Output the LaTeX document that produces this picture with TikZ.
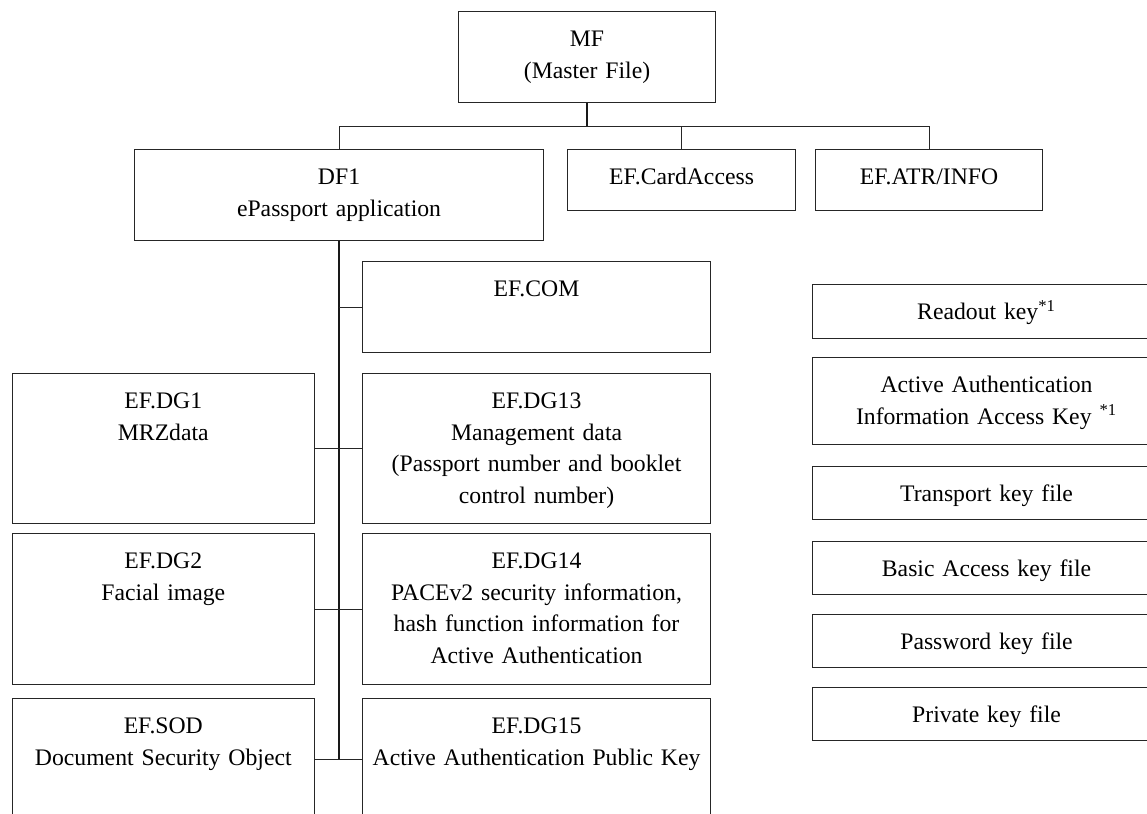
\documentclass[tikz,border=0pt]{standalone}
\usepackage{fontspec}
\setmainfont{Liberation Serif}
\usetikzlibrary{calc}
\tikzset{
  bx/.style 2 args={draw=black!85, line width=0.55pt, anchor=north west, inner sep=0pt,
    align=center, text width=#1, text height=17.5pt, text depth=#2,
    font=\fontsize{11.85}{15.85}\selectfont},
  wire/.style={draw=black!85, line width=0.55pt},
  trunk/.style={draw=black!90, line width=1pt}
}
\begin{document}
\begin{tikzpicture}[x=0.5pt,y=-0.5pt]
\useasboundingbox (0,0) rectangle (1147,814);
\clip (0,0) rectangle (1147,814);
% top level
\node[bx={128.5pt}{28pt}] (mf) at (458,11) {MF\\(Master File)};
\node[bx={204.5pt}{28pt}] (df1) at (134,149) {DF1\\ePassport application};
\node[bx={114pt}{13pt}] (ca) at (567,149) {EF.CardAccess};
\node[bx={113.5pt}{13pt}] (atr) at (815,149) {EF.ATR/INFO};
% DF1 children
\node[bx={174pt}{28pt}] (com) at (362,261) {EF.COM};
\node[bx={151.25pt}{57.5pt}] (dg1) at (11.5,373) {EF.DG1\\MRZdata};
\node[bx={174pt}{57.5pt}] (dg13) at (362,373) {EF.DG13\\Management data\\(Passport number and booklet\\control number)};
\node[bx={151.25pt}{58pt}] (dg2) at (11.5,533) {EF.DG2\\Facial image};
\node[bx={174pt}{58pt}] (dg14) at (362,533) {EF.DG14\\PACEv2 security information,\\hash function information for\\Active Authentication};
\node[bx={151.25pt}{43pt}] (sod) at (11.5,698) {EF.SOD\\Document Security Object};
\node[bx={174pt}{43pt}] (dg15) at (362,698) {EF.DG15\\Active Authentication Public Key};
% key files
\node[bx={174pt}{9.5pt}] (rk) at (812,284.3) {Readout key\textsuperscript{*1}};
\node[bx={174pt}{26pt}] (aak) at (812,357.3) {Active Authentication\\Information Access Key \textsuperscript{*1}};
\node[bx={174pt}{9pt}] (tk) at (812,466) {Transport key file};
\node[bx={174pt}{9pt}] (bk) at (812,541.3) {Basic Access key file};
\node[bx={174pt}{9pt}] (pk) at (812,613.7) {Password key file};
\node[bx={174pt}{9pt}] (prk) at (812,686.7) {Private key file};
% connectors
\coordinate (bus) at ($(mf.south)!0.5!(mf.south |- df1.north)$);
\draw[trunk] (mf.south) -- (bus);
\draw[wire] (df1.north) |- (bus) -| (atr.north);
\draw[wire] (ca.north) -- (ca.north |- bus);
\draw[trunk] (df1.south) -- (df1.south |- sod.east);
\draw[wire] (com.west) -- (com.west -| df1.south);
\draw[wire] (dg1.east) -- (dg13.west);
\draw[wire] (dg2.east) -- (dg14.west);
\draw[wire] (sod.east) -- (dg15.west);
\end{tikzpicture}
\end{document}
